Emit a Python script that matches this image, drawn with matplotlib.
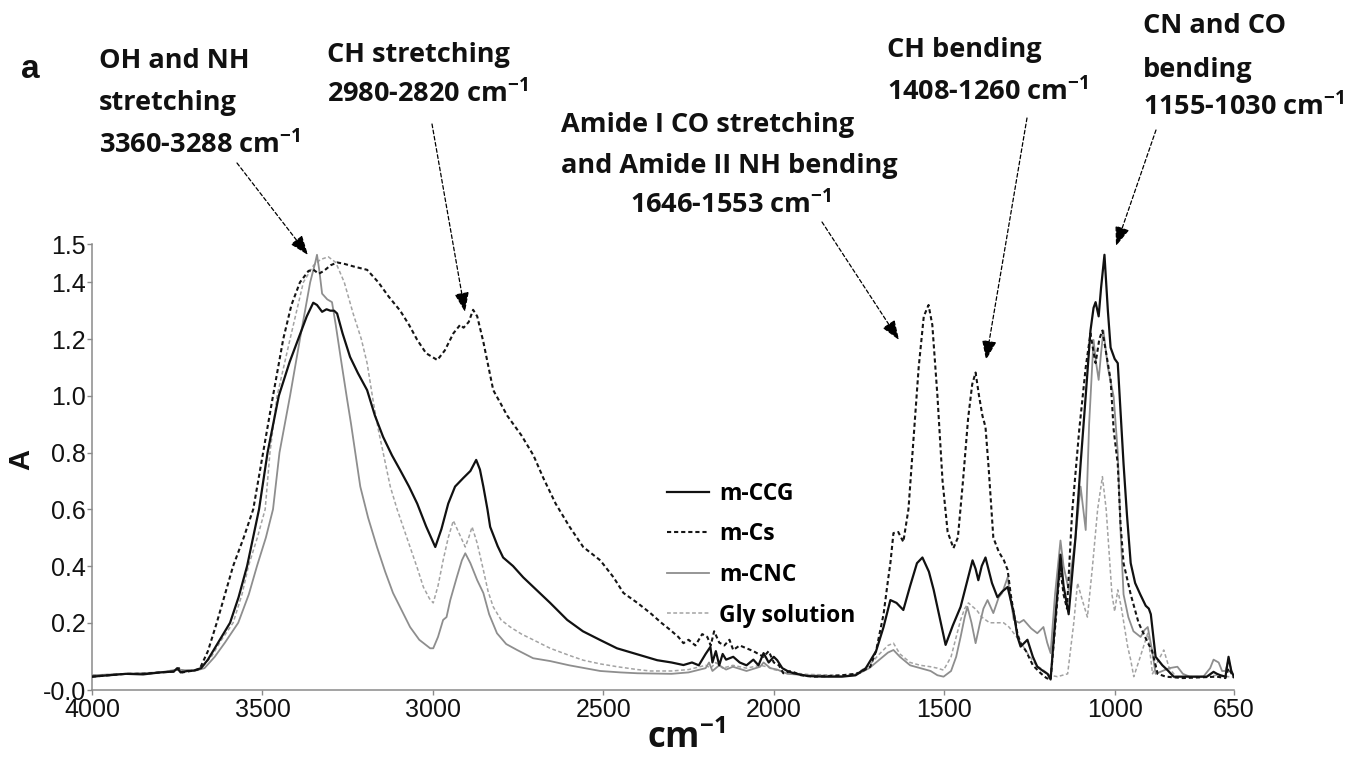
import matplotlib
matplotlib.use("Agg")
import matplotlib.pyplot as plt

plt.rcParams["mathtext.fontset"] = "custom"
plt.rcParams["mathtext.default"] = "regular"

# ---- spectra (wavenumber, absorbance) ----

ccg_wn = [4000, 3950, 3900, 3850, 3800, 3760, 3750, 3740, 3720, 3700, 3680, 3660, 3640, 3620, 3595, 3570, 3545,
          3510, 3485, 3452, 3420, 3395, 3370, 3351, 3340, 3325, 3312, 3301, 3290, 3281, 3265, 3243, 3220, 3193,
          3170, 3146, 3120, 3096, 3070, 3046, 3020, 2993, 2975, 2955, 2935, 2911, 2890, 2873, 2862, 2852, 2840,
          2832, 2810, 2794, 2765, 2735, 2700, 2656, 2606, 2560, 2509, 2460, 2412, 2342, 2300, 2265, 2240, 2220,
          2200, 2186, 2180, 2170, 2160, 2150, 2140, 2119, 2100, 2080, 2060, 2045, 2030, 2015, 2000, 1990, 1975,
          1960, 1942, 1900, 1850, 1800, 1760, 1730, 1700, 1678, 1658, 1640, 1620, 1600, 1580, 1564, 1545, 1531,
          1510, 1496, 1475, 1452, 1430, 1417, 1408, 1400, 1390, 1379, 1360, 1344, 1330, 1314, 1305, 1296, 1285,
          1276, 1256, 1240, 1227, 1210, 1197, 1188, 1175, 1159, 1150, 1135, 1115, 1100, 1085, 1071, 1062, 1056,
          1047, 1040, 1030, 1020, 1012, 1000, 991, 983, 974, 964, 953, 940, 925, 909, 900, 894, 880, 860, 845,
          827, 800, 760, 730, 710, 700, 690, 675, 666, 658, 650]
ccg_abs = [0.01, 0.015, 0.02, 0.018, 0.025, 0.028, 0.04, 0.025, 0.03, 0.032, 0.04, 0.07, 0.11, 0.15, 0.2, 0.29, 0.4,
           0.6, 0.8, 1.0, 1.12, 1.2, 1.28, 1.328, 1.32, 1.296, 1.305, 1.3, 1.3, 1.29, 1.22, 1.137, 1.08, 1.02,
           0.93, 0.855, 0.79, 0.738, 0.68, 0.62, 0.54, 0.467, 0.53, 0.62, 0.68, 0.71, 0.735, 0.774, 0.74, 0.68, 0.6,
           0.538, 0.47, 0.43, 0.4, 0.36, 0.32, 0.27, 0.21, 0.17, 0.139, 0.11, 0.093, 0.068, 0.06, 0.051, 0.06, 0.05,
           0.09, 0.115, 0.06, 0.1, 0.05, 0.09, 0.07, 0.08, 0.06, 0.05, 0.07, 0.05, 0.093, 0.06, 0.08, 0.068, 0.04,
           0.03, 0.022, 0.012, 0.01, 0.01, 0.015, 0.04, 0.1, 0.185, 0.28, 0.27, 0.245, 0.33, 0.41, 0.43, 0.38, 0.316,
           0.2, 0.122, 0.19, 0.256, 0.36, 0.42, 0.39, 0.35, 0.4, 0.43, 0.34, 0.29, 0.31, 0.326, 0.28, 0.234, 0.15,
           0.116, 0.14, 0.08, 0.045, 0.03, 0.02, 0.0, 0.2, 0.44, 0.33, 0.23, 0.5, 0.76, 1.0, 1.23, 1.31, 1.33,
           1.28, 1.38, 1.497, 1.3, 1.17, 1.13, 1.115, 0.95, 0.76, 0.58, 0.41, 0.34, 0.3, 0.26, 0.25, 0.23, 0.08,
           0.05, 0.033, 0.01, 0.01, 0.01, 0.01, 0.027, 0.02, 0.015, 0.01, 0.08, 0.03, 0.01]

cs_wn = [4000, 3950, 3900, 3850, 3800, 3760, 3745, 3735, 3710, 3690, 3683, 3660, 3634, 3610, 3586, 3555, 3527, 3498,
         3469, 3439, 3415, 3390, 3365, 3351, 3335, 3320, 3300, 3281, 3260, 3230, 3193, 3160, 3130, 3096, 3070,
         3046, 3020, 2987, 2965, 2940, 2920, 2910, 2895, 2882, 2870, 2852, 2823, 2800, 2782, 2740, 2705, 2676,
         2640, 2600, 2559, 2509, 2470, 2441, 2400, 2362, 2330, 2303, 2280, 2265, 2250, 2230, 2210, 2195, 2185,
         2175, 2160, 2145, 2130, 2119, 2100, 2080, 2060, 2045, 2030, 2015, 2000, 1985, 1972, 1950, 1920, 1880,
         1840, 1800, 1760, 1746, 1717, 1700, 1690, 1678, 1665, 1658, 1649, 1635, 1620, 1605, 1590, 1575, 1560,
         1546, 1535, 1520, 1505, 1490, 1473, 1460, 1445, 1430, 1418, 1408, 1398, 1388, 1379, 1370, 1356, 1340,
         1325, 1314, 1305, 1296, 1285, 1276, 1260, 1240, 1217, 1200, 1188, 1175, 1160, 1150, 1140, 1125, 1104,
         1085, 1071, 1060, 1056, 1045, 1036, 1025, 1012, 1003, 991, 983, 974, 953, 930, 903, 890, 874, 850, 800,
         700, 675, 666, 650]
cs_abs = [0.01, 0.015, 0.02, 0.02, 0.025, 0.028, 0.04, 0.025, 0.03, 0.035, 0.04, 0.1, 0.2, 0.3, 0.4, 0.5, 0.6, 0.8,
          1.0, 1.2, 1.32, 1.4, 1.44, 1.445, 1.43, 1.44, 1.46, 1.47, 1.465, 1.455, 1.444, 1.4, 1.35, 1.3, 1.25,
          1.197, 1.15, 1.126, 1.16, 1.22, 1.25, 1.24, 1.26, 1.303, 1.28, 1.19, 1.02, 0.97, 0.93, 0.86, 0.79, 0.71,
          0.62, 0.54, 0.467, 0.42, 0.36, 0.305, 0.27, 0.234, 0.2, 0.174, 0.15, 0.128, 0.14, 0.12, 0.16, 0.15, 0.12,
          0.17, 0.13, 0.12, 0.14, 0.104, 0.12, 0.11, 0.1, 0.09, 0.08, 0.1, 0.06, 0.05, 0.022, 0.03, 0.015, 0.01,
          0.012, 0.015, 0.02, 0.025, 0.045, 0.1, 0.16, 0.23, 0.35, 0.41, 0.516, 0.52, 0.485, 0.6, 0.85, 1.1, 1.28,
          1.32, 1.25, 1.0, 0.7, 0.52, 0.463, 0.5, 0.7, 0.92, 1.04, 1.082, 1.0, 0.93, 0.89, 0.75, 0.5, 0.45,
          0.42, 0.386, 0.3, 0.234, 0.16, 0.128, 0.1, 0.05, 0.022, 0.005, 0.0, 0.18, 0.4, 0.3, 0.25, 0.587, 0.88,
          1.1, 1.22, 1.14, 1.115, 1.2, 1.23, 1.15, 1.056, 0.88, 0.76, 0.55, 0.41, 0.3, 0.2, 0.13, 0.1, 0.02, 0.01,
          0.005, 0.01, 0.005, 0.04, 0.005]

cnc_wn = [4000, 3900, 3800, 3750, 3700, 3670, 3640, 3610, 3571, 3540, 3516, 3490, 3469, 3450, 3419, 3390, 3360, 3345,
          3340, 3333, 3325, 3310, 3296, 3285, 3270, 3252, 3240, 3213, 3190, 3164, 3140, 3117, 3090, 3067, 3040,
          3008, 2999, 2985, 2970, 2960, 2949, 2930, 2915, 2905, 2890, 2870, 2852, 2835, 2812, 2785, 2753, 2706,
          2656, 2600, 2509, 2450, 2400, 2300, 2250, 2200, 2190, 2180, 2160, 2140, 2120, 2080, 2040, 2030, 2010,
          1990, 1960, 1900, 1800, 1760, 1720, 1690, 1665, 1649, 1630, 1600, 1570, 1540, 1520, 1502, 1480, 1465,
          1452, 1440, 1432, 1420, 1408, 1395, 1385, 1373, 1356, 1340, 1330, 1314, 1305, 1296, 1280, 1267, 1245,
          1227, 1209, 1198, 1188, 1175, 1159, 1150, 1135, 1115, 1100, 1092, 1085, 1075, 1062, 1055, 1047, 1040,
          1033, 1020, 1003, 991, 983, 974, 960, 945, 924, 912, 903, 890, 880, 860, 840, 816, 800, 780, 740, 720,
          710, 695, 685, 675, 666, 655, 650]
cnc_abs = [0.015, 0.02, 0.025, 0.035, 0.03, 0.04, 0.08, 0.13, 0.2, 0.3, 0.4, 0.5, 0.6, 0.8, 1.0, 1.2, 1.4, 1.47,
           1.497, 1.44, 1.36, 1.34, 1.33, 1.25, 1.13, 0.99, 0.9, 0.68, 0.57, 0.467, 0.38, 0.305, 0.24, 0.185, 0.14,
           0.11, 0.11, 0.15, 0.21, 0.22, 0.28, 0.36, 0.42, 0.445, 0.41, 0.35, 0.305, 0.23, 0.163, 0.125, 0.104,
           0.075, 0.065, 0.05, 0.03, 0.025, 0.022, 0.02, 0.025, 0.04, 0.06, 0.03, 0.05, 0.035, 0.045, 0.03, 0.045,
           0.06, 0.04, 0.035, 0.02, 0.015, 0.012, 0.015, 0.04, 0.07, 0.095, 0.104, 0.08, 0.05, 0.04, 0.03, 0.015,
           0.01, 0.03, 0.08, 0.15, 0.22, 0.256, 0.2, 0.128, 0.2, 0.25, 0.28, 0.234, 0.29, 0.305, 0.36, 0.28, 0.21,
           0.2, 0.21, 0.18, 0.163, 0.185, 0.13, 0.093, 0.3, 0.49, 0.4, 0.316, 0.5, 0.68, 0.6, 0.527, 0.9, 1.197,
           1.12, 1.056, 1.15, 1.23, 1.1, 0.997, 0.8, 0.53, 0.3, 0.22, 0.17, 0.15, 0.175, 0.185, 0.1, 0.02, 0.03,
           0.04, 0.045, 0.02, 0.01, 0.01, 0.04, 0.07, 0.06, 0.03, 0.03, 0.07, 0.02, 0.01]

gly_wn = [4000, 3900, 3800, 3750, 3700, 3680, 3650, 3620, 3586, 3560, 3541, 3515, 3492, 3478, 3457, 3419, 3380, 3350,
          3330, 3307, 3285, 3260, 3234, 3210, 3193, 3175, 3160, 3146, 3125, 3105, 3085, 3067, 3045, 3028, 3010,
          2999, 2985, 2970, 2955, 2940, 2925, 2905, 2895, 2885, 2870, 2852, 2838, 2823, 2800, 2773, 2740, 2706,
          2656, 2600, 2559, 2509, 2459, 2400, 2362, 2300, 2250, 2200, 2185, 2170, 2150, 2120, 2080, 2040, 2020,
          2000, 1960, 1900, 1800, 1760, 1720, 1690, 1665, 1649, 1630, 1600, 1570, 1540, 1520, 1502, 1480, 1465,
          1452, 1440, 1429, 1420, 1405, 1390, 1367, 1345, 1326, 1310, 1296, 1275, 1256, 1230, 1209, 1190, 1168,
          1138, 1120, 1109, 1095, 1080, 1065, 1050, 1036, 1025, 1008, 1000, 991, 980, 962, 953, 944, 925, 903,
          889, 875, 856, 840, 820, 750, 700, 680, 650]
gly_abs = [0.015, 0.02, 0.025, 0.035, 0.03, 0.04, 0.08, 0.14, 0.2, 0.3, 0.4, 0.5, 0.6, 0.8, 1.0, 1.2, 1.4, 1.46,
           1.48, 1.49, 1.47, 1.4, 1.29, 1.2, 1.115, 0.98, 0.88, 0.8, 0.68, 0.6, 0.53, 0.467, 0.39, 0.326, 0.285,
           0.27, 0.33, 0.42, 0.5, 0.56, 0.52, 0.467, 0.5, 0.538, 0.48, 0.386, 0.31, 0.256, 0.21, 0.185, 0.16, 0.14,
           0.11, 0.085, 0.068, 0.055, 0.045, 0.035, 0.03, 0.03, 0.035, 0.05, 0.04, 0.06, 0.04, 0.05, 0.04, 0.05,
           0.045, 0.035, 0.025, 0.018, 0.015, 0.02, 0.05, 0.09, 0.12, 0.128, 0.09, 0.06, 0.05, 0.045, 0.04, 0.033,
           0.08, 0.15, 0.21, 0.25, 0.27, 0.26, 0.245, 0.22, 0.2, 0.2, 0.2, 0.185, 0.163, 0.13, 0.093, 0.05, 0.033,
           0.015, 0.01, 0.02, 0.2, 0.34, 0.28, 0.22, 0.4, 0.6, 0.715, 0.6, 0.3, 0.24, 0.316, 0.25, 0.116, 0.069,
           0.01, 0.08, 0.163, 0.02, 0.06, 0.104, 0.04, 0.01, 0.01, 0.015, 0.01, 0.01]

x_ticks = [4000, 3500, 3000, 2500, 2000, 1500, 1000, 650]
y_min, y_max = -0.037, 1.535
y_ticks = [y_min, 0.2, 0.4, 0.6, 0.8, 1.0, 1.2, 1.4, y_max]
y_tick_labels = ["-0.0", "0.2", "0.4", "0.6", "0.8", "1.0", "1.2", "1.4", "1.5"]

W, H = 1347, 757
fig = plt.figure(figsize=(W / 100, H / 100), dpi=100)
ax = fig.add_axes([92 / W, 1 - 690 / H, (1234 - 92) / W, (690 - 244) / H])

dash = (0, (2.0, 1.4))
ax.plot(gly_wn, gly_abs, color="#a3a3a3", lw=1.1, linestyle=(0, (2.5, 1.6)), label="Gly solution", zorder=2)
ax.plot(cnc_wn, cnc_abs, color="#8e8e8e", lw=1.3, label="m-CNC", zorder=3)
ax.plot(cs_wn, cs_abs, color="#151515", lw=1.5, linestyle=dash, label="m-Cs", zorder=4)
ax.plot(ccg_wn, ccg_abs, color="#111111", lw=1.6, label="m-CCG", zorder=5)

ax.set_xlim(4000, 650)
ax.set_ylim(y_min, y_max)
ax.set_xticks(x_ticks)
ax.set_xticklabels([str(t) for t in x_ticks])
ax.set_yticks(y_ticks)
ax.set_yticklabels(y_tick_labels)
for s in ["top", "right"]:
    ax.spines[s].set_visible(False)
for s in ["left", "bottom"]:
    ax.spines[s].set_color("#8a8a8a")
    ax.spines[s].set_linewidth(1.1)
ax.tick_params(axis="both", colors="#8a8a8a", length=3.5, width=1, labelcolor="#111111")
ax.tick_params(axis="x", pad=2)
ax.tick_params(axis="y", pad=1)
for lab in ax.get_xticklabels() + ax.get_yticklabels():
    lab.set_fontfamily("Liberation Sans")
    lab.set_fontsize(18)

# legend, in the order of the figure key
h, l = ax.get_legend_handles_labels()
order = [3, 2, 1, 0]
leg = ax.legend([h[i] for i in order], [l[i] for i in order], loc="upper left",
                bbox_to_anchor=(667 / W, 1 - 482 / H), bbox_transform=fig.transFigure, frameon=False,
                prop={"family": "Open Sans", "weight": "bold", "size": 16.5},
                handlelength=1.85, handletextpad=0.42, labelspacing=0.72, borderpad=0, borderaxespad=0)


def put(x, y, s, size=19.5, ha="left", family="Open Sans", **kw):
    fig.text(x / W, 1 - y / H, s, ha=ha, va="baseline", fontsize=size,
             family=family, weight="bold", color="#111111", **kw)


def arrow(x0, y0, x1, y1):
    ax.annotate("", xy=(x1, H - y1), xycoords="figure pixels",
                xytext=(x0, H - y0), textcoords="figure pixels",
                arrowprops=dict(arrowstyle="-|>,head_length=1.2,head_width=0.45", mutation_scale=10,
                                color="black", lw=0.9, linestyle=(0, (3, 2)),
                                shrinkA=0, shrinkB=0), annotation_clip=False)


put(21, 78, "a", size=24, family="Liberation Sans")
put(99, 68, "OH and NH")
put(99, 110, "stretching")
put(99, 153, "3360-3288 cm$^{-1}$")
put(327, 62, "CH stretching")
put(327, 102, "2980-2820 cm$^{-1}$")
put(561, 132, "Amide I CO stretching")
put(561, 173, "and Amide II NH bending")
put(731, 213, "1646-1553 cm$^{-1}$", ha="center")
put(887, 57, "CH bending")
put(887, 100, "1408-1260 cm$^{-1}$")
put(1143, 33, "CN and CO")
put(1143, 77, "bending")
put(1143, 115, "1155-1030 cm$^{-1}$")

arrow(237, 163, 308, 255)
arrow(432, 124, 465, 312)
arrow(822, 222, 899, 340)
arrow(1027, 118, 986, 360)
arrow(1156, 130, 1116, 246)

fig.text(21 / W, 1 - 459 / H, "A", rotation=90, ha="center", va="center",
         fontsize=21, family="Liberation Sans", weight="bold", color="#111111")
put(686, 748, "cm$^{-1}$", size=25, ha="center")

fig.savefig("out.png", dpi=100)
